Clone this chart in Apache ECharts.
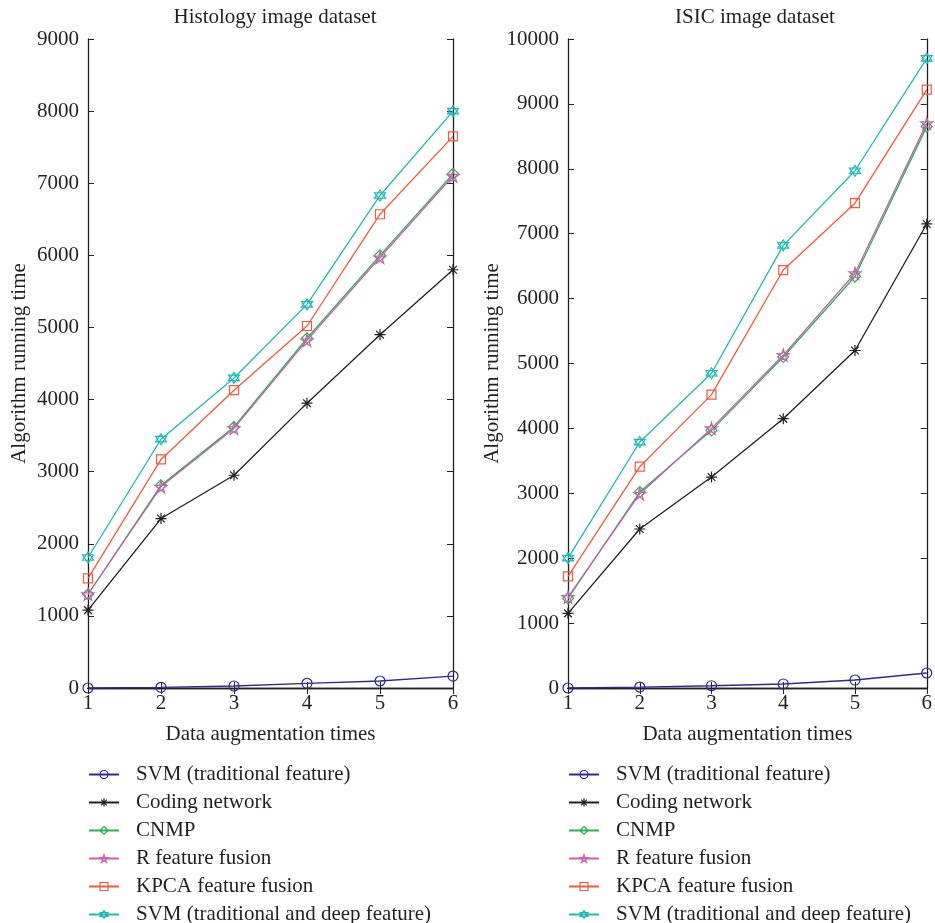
<!DOCTYPE html>
<html>
<head>
<meta charset="utf-8">
<script src="https://cdn.jsdelivr.net/npm/echarts@6/dist/echarts.min.js"></script>
<style>
  html, body { margin: 0; padding: 0; background: #fff; }
  #main { width: 935px; height: 923px; }
</style>
</head>
<body>
<div id="main"></div>
<script>
  // x axis: data augmentation times
  const augTimes = [1, 2, 3, 4, 5, 6];
  const seriesNames = ['SVM (traditional feature)', 'Coding network', 'CNMP',
    'R feature fusion', 'KPCA feature fusion', 'SVM (traditional and deep feature)'];

  // Histology image dataset
  const histSvm = [0, 10, 28, 65, 97, 166];
  const histCoding = [1080, 2350, 2950, 3950, 4900, 5800];
  const histCnmp = [1300, 2810, 3620, 4850, 6000, 7130];
  const histRFusion = [1300, 2790, 3600, 4820, 5970, 7100];
  const histKpca = [1520, 3170, 4130, 5020, 6570, 7650];
  const histSvmDeep = [1810, 3450, 4300, 5320, 6830, 8000];

  // ISIC image dataset
  const isicSvm = [0, 15, 35, 62, 123, 231];
  const isicCoding = [1150, 2450, 3250, 4150, 5200, 7150];
  const isicCnmp = [1380, 3020, 3970, 5100, 6340, 8650];
  const isicRFusion = [1400, 2990, 4000, 5130, 6390, 8700];
  const isicKpca = [1720, 3410, 4520, 6440, 7470, 9220];
  const isicSvmDeep = [2000, 3790, 4850, 6820, 7970, 9700];

  const colors = ['#2e2a8e', '#231f20', '#2bb24c', '#c561b0', '#f15a3a', '#1db8b8'];
  const symbols = [
    'circle',
    'path://M0,5 L10,5 M5,0 L5,10 M1.5,1.5 L8.5,8.5 M8.5,1.5 L1.5,8.5',
    'diamond',
    'path://M5,0 L6.12,3.45 L9.76,3.45 L6.82,5.59 L7.94,9.05 L5,6.91 L2.06,9.05 L3.18,5.59 L0.24,3.45 L3.88,3.45 Z',
    'rect',
    'path://M5,0 L9.33,7.5 L0.67,7.5 Z M5,10 L0.67,2.5 L9.33,2.5 Z'
  ];
  const symbolSizes = [10, 11, 11, 12, 9, 11];

  const font = 'Liberation Serif';
  const fontSize = 21;
  const inkColor = '#231f20';

  const histData = [histSvm, histCoding, histCnmp, histRFusion, histKpca, histSvmDeep];
  const isicData = [isicSvm, isicCoding, isicCnmp, isicRFusion, isicKpca, isicSvmDeep];

  function makeSeries(dataSets, axisIdx) {
    return dataSets.map((vals, i) => ({
      name: seriesNames[i],
      type: 'line',
      xAxisIndex: axisIdx,
      yAxisIndex: axisIdx,
      data: augTimes.map((x, k) => [x, vals[k]]),
      symbol: symbols[i],
      symbolSize: symbolSizes[i],
      showAllSymbol: true,
      lineStyle: { color: colors[i], width: 1.3 },
      itemStyle: { color: 'transparent', borderColor: colors[i], borderWidth: 1.2 },
      emphasis: { disabled: true },
      z: 2 + i
    }));
  }

  // 底部/左侧坐标轴
  function bottomAxis(gridIdx) {
    return {
      type: 'value', gridIndex: gridIdx, min: 1, max: 6, interval: 1,
      name: 'Data augmentation times', nameLocation: 'middle', nameGap: 36,
      nameTextStyle: { fontFamily: font, fontSize: fontSize, color: inkColor },
      axisLine: { show: true, lineStyle: { color: inkColor, width: 1.3 } },
      axisTick: { show: true, inside: true, length: 6, lineStyle: { color: inkColor } },
      axisLabel: { fontFamily: font, fontSize: fontSize, color: inkColor, margin: 5 },
      splitLine: { show: false }
    };
  }
  function topAxis(gridIdx) {
    return {
      type: 'value', gridIndex: gridIdx, position: 'top', min: 1, max: 6, interval: 1,
      axisLine: { show: true, lineStyle: { color: inkColor, width: 1.3 } },
      axisTick: { show: true, inside: true, length: 6, lineStyle: { color: inkColor } },
      axisLabel: { show: false },
      splitLine: { show: false }
    };
  }
  function leftAxis(gridIdx, maxVal, gap) {
    return {
      type: 'value', gridIndex: gridIdx, min: 0, max: maxVal, interval: 1000,
      name: 'Algorithm running time', nameLocation: 'middle', nameGap: gap,
      nameTextStyle: { fontFamily: font, fontSize: fontSize, color: inkColor },
      axisLine: { show: true, lineStyle: { color: inkColor, width: 1.3 } },
      axisTick: { show: true, inside: true, length: 6, lineStyle: { color: inkColor } },
      axisLabel: { fontFamily: font, fontSize: fontSize, color: inkColor, margin: 9,
        formatter: v => String(v) },
      splitLine: { show: false }
    };
  }
  function rightAxis(gridIdx, maxVal) {
    return {
      type: 'value', gridIndex: gridIdx, position: 'right', min: 0, max: maxVal, interval: 1000,
      axisLine: { show: true, lineStyle: { color: inkColor, width: 1.3 } },
      axisTick: { show: true, inside: true, length: 6, lineStyle: { color: inkColor } },
      axisLabel: { show: false },
      splitLine: { show: false }
    };
  }

  // 每个图例项单独一个legend，避免自动换列
  function makeLegends(left) {
    return seriesNames.map((name, i) => ({
      orient: 'vertical', left: left, top: 764 + i * 28, padding: 0,
      data: [{
        name: name,
        itemStyle: { color: 'transparent', borderColor: colors[i], borderWidth: 1.2 }
      }],
      itemWidth: 30, itemHeight: 10,
      selectedMode: false,
      textStyle: { fontFamily: font, fontSize: fontSize, color: inkColor, padding: [0, 0, 0, 12] }
    }));
  }

  const myChart = echarts.init(document.getElementById('main'), null, { renderer: 'canvas' });
  const option = {
    backgroundColor: '#fff',
    animation: false,
    title: [
      { text: 'Histology image dataset', left: 270, top: 2, textAlign: 'center',
        textStyle: { fontFamily: font, fontSize: fontSize, fontWeight: 'normal', color: inkColor } },
      { text: 'ISIC image dataset', left: 750, top: 2, textAlign: 'center',
        textStyle: { fontFamily: font, fontSize: fontSize, fontWeight: 'normal', color: inkColor } }
    ],
    grid: [
      { left: 88, top: 39, width: 365, height: 649 },
      { left: 568, top: 39, width: 364, height: 649 }
    ],
    xAxis: [bottomAxis(0), bottomAxis(1), topAxis(0), topAxis(1)],
    yAxis: [leftAxis(0, 9000, 58), leftAxis(1, 10000, 64), rightAxis(0, 9000), rightAxis(1, 10000)],
    legend: makeLegends(88).concat(makeLegends(568)),
    series: makeSeries(histData, 0).concat(makeSeries(isicData, 1))
  };
  myChart.setOption(option);
</script>
</body>
</html>
